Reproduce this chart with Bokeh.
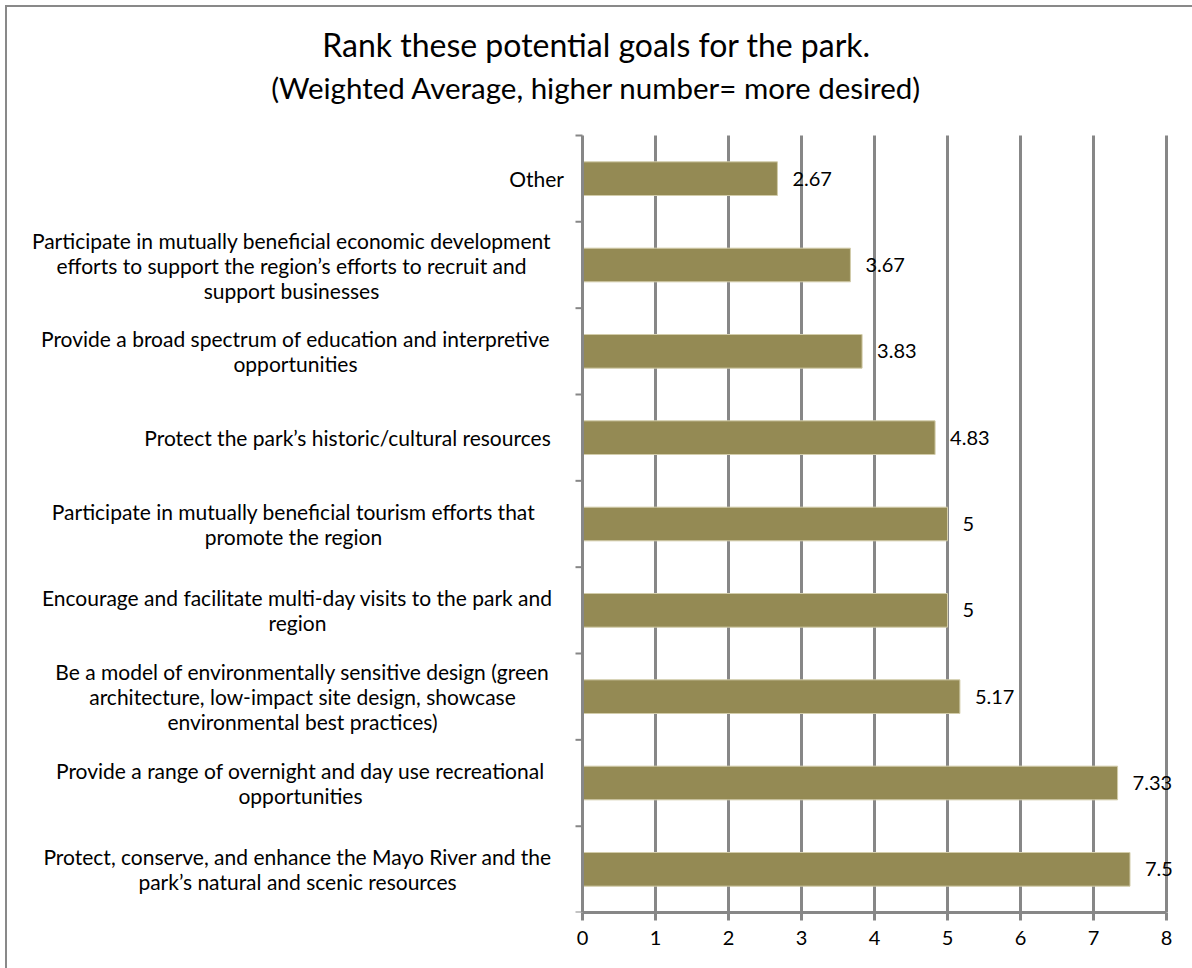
from bokeh.plotting import figure
from bokeh.models import Range1d, FixedTicker, ColumnDataSource
from bokeh.core.properties import value
from bokeh.embed import file_html
from bokeh.resources import INLINE

# ---- data (bottom to top) ----
categories = [
    "Protect, conserve, and enhance the Mayo River and the\npark\u2019s natural and scenic resources",
    "Provide a range of overnight and day use recreational\nopportunities",
    "Be a model of environmentally sensitive design (green\narchitecture, low-impact site design, showcase\nenvironmental best practices)",
    "Encourage and facilitate multi-day visits to the park and\nregion",
    "Participate in mutually beneficial tourism efforts that\npromote the region",
    "Protect the park\u2019s historic/cultural resources",
    "Provide a broad spectrum of education and interpretive\nopportunities",
    "Participate in mutually beneficial economic development\nefforts to support the region\u2019s efforts to recruit and\nsupport businesses",
    "Other",
]
values = [7.5, 7.33, 5.17, 5, 5, 4.83, 3.83, 3.67, 2.67]
x_ticks = [0, 1, 2, 3, 4, 5, 6, 7, 8]
title_lines = [
    "Rank these potential goals for the park.",
    "(Weighted Average, higher number= more desired)",
]

# ---- layout / style constants (pixels) ----
W, H = 1192, 968
X0_PX, X8_PX = 582, 1166          # where 0 and 8 fall on the page
Y_TOP_PX, Y_BOT_PX = 135, 912     # top and bottom of the plotting area
FONT = value("Lato")
GRAY = "#878787"
label_center_px = [297, 300, 302, 297, 293, 347, 295, 291, 536]
title_center_px = [(596, 44), (596, 87)]
title_sizes = ["32px", "29.5px"]

n = len(categories)
ppx = (X8_PX - X0_PX) / (x_ticks[-1] - x_ticks[0])
ppy = (Y_BOT_PX - Y_TOP_PX) / n
def xd(px):
    return (px - X0_PX) / ppx
def yd(py):
    return (Y_BOT_PX - py) / ppy

positions = [i + 0.5 for i in range(n)]
bounds = list(range(n + 1))
src = ColumnDataSource(dict(y=positions, v=values, t=[f"{v:g}" for v in values]))

p = figure(
    width=W, height=H,
    x_range=Range1d(xd(0), xd(W)), y_range=Range1d(0, yd(0)),
    output_backend="svg", toolbar_location=None,
    y_axis_location=None, title_location=None,
    min_border_left=0, min_border_right=0, min_border_top=0, min_border_bottom=H - Y_BOT_PX,
)
p.outline_line_color = None
p.background_fill_color = None
p.border_fill_color = None
p.styles = {"box-shadow": "inset 5px 5px 0 0 white, inset 7px 7px 0 0 #898989"}
p.xgrid.visible = False
p.ygrid.visible = False

# x axis
xa = p.xaxis[0]
xa.ticker = FixedTicker(ticks=x_ticks)
xa.bounds = (x_ticks[0], x_ticks[-1])
xa.axis_line_color = GRAY
xa.axis_line_width = 3
xa.major_tick_line_color = GRAY
xa.major_tick_line_width = 3
xa.major_tick_out = 8
xa.major_tick_in = 0
xa.minor_tick_line_color = None
xa.major_label_text_font = "Lato"
xa.major_label_text_font_size = "20px"
xa.major_label_text_color = "black"
xa.major_label_standoff = 10

# vertical gridlines at the value ticks, spanning the category extent
p.segment(x0=x_ticks[1:], y0=[0] * (len(x_ticks) - 1), x1=x_ticks[1:], y1=[n] * (len(x_ticks) - 1),
          line_color=GRAY, line_width=3)

# bars
p.hbar(y="y", left=0, right="v", height=0.39, source=src,
       fill_color="#948A54", line_color="#D2CCAA", line_width=1)

# category axis line and boundary tick marks
p.segment(x0=[x_ticks[0]], y0=[0], x1=[x_ticks[0]], y1=[n], line_color=GRAY, line_width=3)
p.segment(x0=[xd(X0_PX - 7)] * len(bounds), y0=bounds, x1=[x_ticks[0]] * len(bounds), y1=bounds,
          line_color=GRAY, line_width=2)

# value labels
p.text(x="v", y="y", text="t", source=src, x_offset=15,
       text_align="left", text_baseline="middle",
       text_font=FONT, text_font_size="20px", text_color="black")

# category labels
p.text(x=[xd(c) for c in label_center_px], y=positions, text=categories,
       text_align="center", text_baseline="middle", text_line_height=1.0,
       text_font=FONT, text_font_size="21px", text_color="black")

# title
for line, (cx, cy), size in zip(title_lines, title_center_px, title_sizes):
    p.text(x=[xd(cx)], y=[yd(cy)], text=[line],
           text_align="center", text_baseline="middle",
           text_font=FONT, text_font_size=size, text_color="black")

open("out.html", "w").write(file_html(p, INLINE))
